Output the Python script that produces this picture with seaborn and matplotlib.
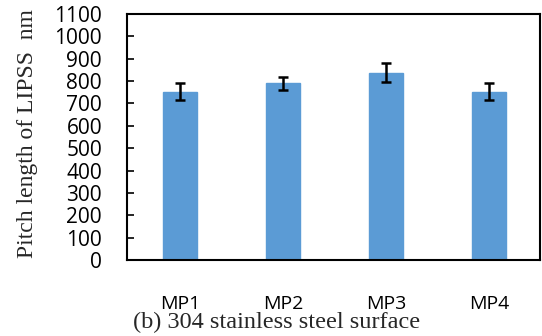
import matplotlib
matplotlib.use("Agg")
import matplotlib.pyplot as plt
import seaborn as sns
import pandas as pd

categories = ["MP1", "MP2", "MP3", "MP4"]
pitch_nm = [752, 790, 838, 752]
err_nm = [38, 30, 42, 38]
yticks = list(range(0, 1101, 100))

df = pd.DataFrame({"cat": categories, "val": pitch_nm})

sns.set_theme(style="white")
plt.rcParams["font.family"] = ["Open Sans", "DejaVu Sans"]

fig = plt.figure(figsize=(5.42, 3.36), dpi=100)
ax = fig.add_axes([127 / 542, 1 - 260 / 336, (540 - 127) / 542, (260 - 14) / 336])

sns.barplot(data=df, x="cat", y="val", color="#5B9BD5", saturation=1,
            width=0.33, errorbar=None, ax=ax, edgecolor="#5B9BD5")
ax.errorbar(x=list(range(len(categories))), y=pitch_nm, yerr=err_nm,
            fmt="none", ecolor="black", elinewidth=1.8, capsize=3.5, capthick=1.8)

ax.set_ylim(0, 1100)
ax.set_xlim(-0.515, 3.49)
ax.set_yticks(yticks)
ax.set_yticklabels([str(t) for t in yticks], fontsize=15)
ax.tick_params(axis="y", direction="in", length=5, width=1.2, pad=18, left=True, colors="black")
ax.tick_params(axis="x", length=0, pad=25, labelsize=14, colors="black")
ax.set_xlabel("")
ax.set_ylabel("")
for s in ax.spines.values():
    s.set_visible(True)
    s.set_color("black")
    s.set_linewidth(1.5)

fig.text(28 / 542, 1 - 134 / 336, "Pitch length of LIPSS  nm", rotation=90,
         ha="center", va="center", fontsize=17, family=["Liberation Serif", "DejaVu Serif"])
fig.text(277 / 542, 1 - 322 / 336, "(b) 304 stainless steel surface",
         ha="center", va="center", fontsize=17.5, family=["Liberation Serif", "DejaVu Serif"])

fig.savefig("out.png", dpi=100, facecolor="white")
